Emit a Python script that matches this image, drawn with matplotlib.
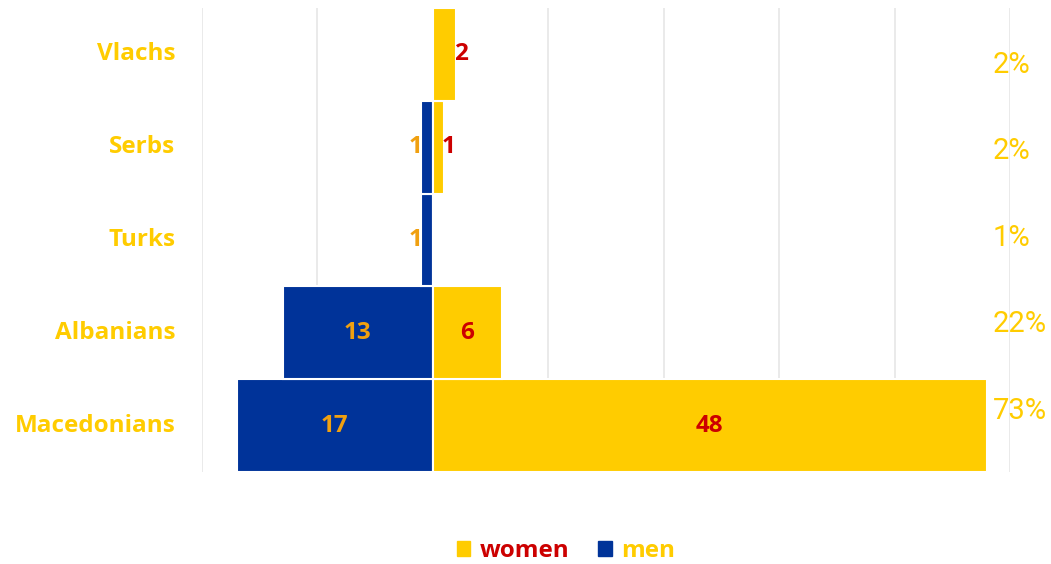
import matplotlib
matplotlib.use("Agg")
import matplotlib.pyplot as plt
from matplotlib.patches import Patch
import numpy as np

categories = ["Macedonians", "Albanians", "Turks", "Serbs", "Vlachs"]
men = [17, 13, 1, 1, 0]
women = [48, 6, 0, 1, 2]
shares = ["73%", "22%", "1%", "2%", "2%"]

YELLOW = "#FFCC00"
BLUE = "#003399"
RED = "#CC0000"
ORANGE = "#F0A010"
GRID = "#E6E6E6"

plt.rcParams['font.family'] = ['Open Sans', 'DejaVu Sans']

fig = plt.figure(figsize=(10.51, 5.64), dpi=100)
ax = fig.add_axes([202/1051, (564-472)/564, (1010-202)/1051, (472-8)/564])

y = np.arange(len(categories))
ax.barh(y, [-m for m in men], height=1.0, color=BLUE, edgecolor="white", linewidth=1.5, zorder=3)
ax.barh(y, women, height=1.0, color=YELLOW, edgecolor="white", linewidth=1.5, zorder=3)

ax.set_xlim(-20, 50)
ax.set_ylim(-0.5, len(categories) - 0.5)
ax.set_xticks(np.arange(-20, 51, 10))
ax.xaxis.grid(True, color=GRID, linewidth=1.2, zorder=0)
ax.tick_params(axis='both', length=0)
ax.set_xticklabels([])
ax.set_yticks([])
for s in ax.spines.values():
    s.set_visible(False)

# category labels
for yi, c in zip(y, categories):
    ax.text(-20 - 2.3, yi, c, ha='right', va='center', fontsize=17.5, fontweight='bold',
            color=YELLOW, clip_on=False)

# value labels
for yi, m, w in zip(y, men, women):
    if m > 0:
        xm = -m / 2 if m > 3 else -m - 0.5
        ax.text(xm, yi, str(m), ha='center', va='center', fontsize=17.5, fontweight='bold',
                color=ORANGE, zorder=5)
    if w > 0:
        xw = w / 2 if w > 3 else w + 0.4
        ax.text(xw, yi, str(w), ha='center', va='center', fontsize=17.5, fontweight='bold',
                color=RED, zorder=5)

# share labels
fr = np.linspace((472-411)/464, (472-65)/464, len(shares))
for f, s in zip(fr, shares):
    ax.text(48.5, f, s, transform=ax.get_xaxis_transform(), ha='left', va='center',
            fontsize=21, color=YELLOW, family=['Roboto', 'DejaVu Sans'], clip_on=False)

handles = [Patch(color=YELLOW, label='women'), Patch(color=BLUE, label='men')]
leg = fig.legend(handles=handles, loc='center', bbox_to_anchor=(566/1051, 1 - 551/564),
                 ncol=2, frameon=False, prop={'weight': 'bold', 'size': 17.5},
                 handlelength=0.55, handleheight=0.55, handletextpad=0.38, columnspacing=1.2)
for t, col in zip(leg.get_texts(), [RED, YELLOW]):
    t.set_color(col)

fig.savefig("out.png", dpi=100)
